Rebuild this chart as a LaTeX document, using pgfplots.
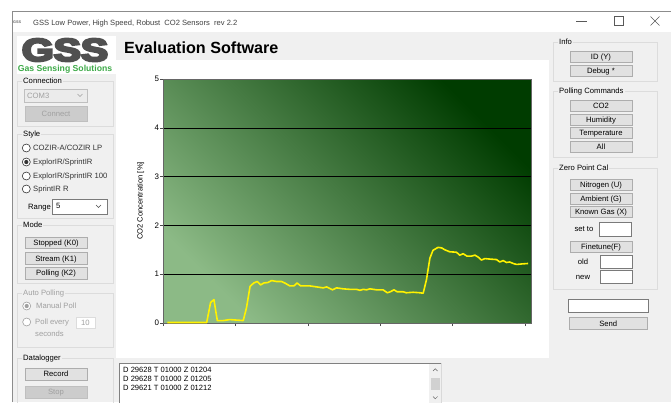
\documentclass[border=0pt]{standalone}
\usepackage{fontspec}
\setmainfont{Liberation Sans}
\newfontfamily\logofont{Liberation Sans}[BoldFeatures={FakeBold=7}]
\usepackage{graphicx}
\usepackage{pgfplots}
\pgfplotsset{compat=1.18}
\definecolor{bg}{HTML}{F0F0F0}
\definecolor{btnf}{HTML}{E1E1E1}
\definecolor{btnb}{HTML}{ADADAD}
\definecolor{grp}{HTML}{DCDCDC}
\definecolor{dis}{HTML}{A0A0A0}
\definecolor{disf}{HTML}{CCCCCC}
\definecolor{disb}{HTML}{BFBFBF}
\definecolor{tbx}{HTML}{7A7A7A}
\definecolor{gl}{HTML}{8CBA86}
\definecolor{gd}{HTML}{003C00}
\definecolor{gssgreen}{HTML}{3DAA48}
\definecolor{gssgray}{HTML}{505050}
\newcommand\uifont{\fontsize{7.7}{9}\selectfont}
\tikzset{ui/.style={font=\uifont, inner sep=0pt}}
\newcommand\Btn[5]{\draw[btnb, fill=btnf, line width=0.6bp] (#1,#2) rectangle (#3,#4);
  \node[ui, anchor=base] at ({(#1+#3)/2},{(#2+#4)/2+2.8}) {#5};}
\newcommand\DBtn[5]{\draw[disb, fill=disf, line width=0.6bp] (#1,#2) rectangle (#3,#4);
  \node[ui, anchor=base, text=dis] at ({(#1+#3)/2},{(#2+#4)/2+2.8}) {#5};}
\newcommand\Grp[6]{\draw[grp, line width=0.6bp] (#1,#2) rectangle (#3,#4);
  \node[ui, anchor=base west, fill=bg, inner xsep=1bp, inner ysep=0.5bp, text=#6] at (#1+5,#2+2.8) {#5};}
\newcommand\RadioOff[5]{\draw[#5, fill=white, line width=0.6bp] (#1,#2) circle[radius=4];
  \node[ui, anchor=base west, text=#5] at (#3,#2+2.8) {#4};}
\newcommand\RadioOn[5]{\RadioOff{#1}{#2}{#3}{#4}{#5}\fill[#5] (#1,#2) circle[radius=2.1];}
\newcommand\TBox[4]{\draw[tbx, fill=white, line width=0.6bp] (#1,#2) rectangle (#3,#4);}
\begin{document}
\begin{tikzpicture}
\begin{scope}[x=1bp, y=-1bp, yshift=402bp]
\fill[white] (0,0) rectangle (671,402);
\useasboundingbox (0,0) rectangle (671,402);
% window
\fill[bg] (12.3,32) rectangle (671,402);
\draw[black!45, line width=0.6bp] (12.3,402) -- (12.3,11.3) -- (671,11.3);
\node[anchor=west, font=\fontsize{3.8}{4}\selectfont\bfseries, text=black!60, inner sep=0] at (13,22) {GSS};
\node[anchor=base west, font=\fontsize{7.6}{9}\selectfont, text=black!75, inner sep=0] at (33,25.8) {GSS Low Power, High Speed, Robust\ \ CO2 Sensors\ \ rev 2.2};
\draw[black!65, line width=0.45bp] (576,21)--(587,21);
\draw[black!65, line width=0.45bp] (614.5,16.5) rectangle (623.5,25.5);
\draw[black!65, line width=0.45bp] (650.5,16.5)--(659.5,25.5) (650.5,25.5)--(659.5,16.5);
% logo
\fill[white] (17,36) rectangle (116,74);
\node[anchor=base, inner sep=0, text=gssgray] at (65,61) {\scalebox{1.28}[1]{\fontsize{32}{32}\logofont\bfseries GSS}};
\node[anchor=base, inner sep=0, text=gssgreen] at (65,71) {\fontsize{8.7}{9}\selectfont\bfseries Gas Sensing Solutions};
\node[anchor=base west, inner sep=0, font=\fontsize{16.2}{18}\selectfont\bfseries] at (124,53.3) {Evaluation Software};
% chart panel
\fill[white] (116,60) rectangle (549,358);
% left column
\Grp{17}{81}{113}{126}{Connection}{black}
\draw[disb, fill=black!8, line width=0.6bp] (24,89) rectangle (87,102);
\node[ui, anchor=base west, text=dis] at (27,98.3) {COM3};
\draw[dis, line width=0.5bp] (77.5,94)--(80,96.5)--(82.5,94);
\DBtn{25}{106}{87}{121}{Connect}
\Grp{17}{134}{113}{218}{Style}{black}
\RadioOff{26.3}{148}{33}{COZIR-A/COZIR LP}{black!80}
\RadioOn{26.3}{162}{33}{ExplorIR/SprintIR}{black!80}
\RadioOff{26.3}{176}{33}{ExplorIR/SprintIR 100}{black!80}
\RadioOff{26.3}{189}{33}{SprintIR R}{black!80}
\node[ui, anchor=base west] at (28,209.6) {Range};
\TBox{52}{199}{107}{214}
\node[ui, anchor=base west] at (56,208.6) {5};
\draw[black!70, line width=0.5bp] (96,205)--(98.5,207.5)--(101,205);
\Grp{17}{225}{113}{283}{Mode}{black}
\Btn{25}{237}{87}{248.5}{Stopped (K0)}
\Btn{25}{252.5}{87}{264}{Stream (K1)}
\Btn{25}{267}{87}{279}{Polling (K2)}
\Grp{17}{293}{113}{347}{Auto Polling}{dis}
\RadioOn{26.7}{306}{36}{Manual Poll}{dis}
\RadioOff{26.7}{322}{35}{Poll every}{dis}
\draw[grp, fill=white, line width=0.6bp] (76,317) rectangle (95,328);
\node[ui, anchor=base west, text=dis] at (81,325.5) {10};
\node[ui, anchor=base west, text=dis] at (35,336) {seconds};
\Grp{17}{358}{113}{410}{Datalogger}{black}
\Btn{25}{368}{87}{380}{Record}
\DBtn{25}{386}{87}{398}{Stop}
% right column
\Grp{553}{42}{657}{81}{Info}{black}
\Btn{570}{51}{632}{62}{ID (Y)}
\Btn{570}{65.5}{632}{76.5}{Debug *}
\Grp{553}{91}{657}{157}{Polling Commands}{black}
\Btn{570}{100.5}{632}{111.5}{CO2}
\Btn{570}{114}{632}{125}{Humidity}
\Btn{570}{127.5}{632}{138.5}{Temperature}
\Btn{570}{141}{632}{152.5}{All}
\Grp{553}{168}{657}{289}{Zero Point Cal}{black}
\Btn{570}{179.5}{632}{190.5}{Nitrogen (U)}
\Btn{570}{193}{632}{204}{Ambient (G)}
\Btn{570}{206.5}{632}{217.5}{Known Gas (X)}
\node[ui, anchor=base] at (584,231) {set to};
\TBox{599}{222.5}{631}{236}
\Btn{570}{241}{632}{252.5}{Finetune(F)}
\node[ui, anchor=base] at (583,264.8) {old};
\TBox{600}{255}{632.5}{268.3}
\node[ui, anchor=base] at (583,279) {new};
\TBox{600}{270}{632.5}{283.3}
\TBox{568}{299}{648}{312.3}
\Btn{569}{317.3}{647.5}{329.3}{Send}
% log box
\fill[white] (119.5,363) rectangle (441.5,405);
\draw[black!50, line width=0.6bp] (119.5,405) -- (119.5,363) -- (441.5,363);
\draw[black!15, line width=0.6bp] (441.5,363) -- (441.5,405);
\fill[bg] (429,363.5) rectangle (441,405);
\fill[black!18] (430.5,378.3) rectangle (440,390);
\draw[black!60, line width=0.5bp] (433,371)--(435.3,368.7)--(437.6,371);
\draw[black!60, line width=0.5bp] (433,396.5)--(435.3,398.8)--(437.6,396.5);
\node[anchor=base west, inner sep=0, font=\fontsize{7.6}{9}\selectfont] at (123,372) {D 29628 T 01000 Z 01204};
\node[anchor=base west, inner sep=0, font=\fontsize{7.6}{9}\selectfont] at (123,381.2) {D 29628 T 01000 Z 01205};
\node[anchor=base west, inner sep=0, font=\fontsize{7.6}{9}\selectfont] at (123,390.3) {D 29621 T 01000 Z 01212};
\end{scope}
\begin{axis}[
  at={(163.3bp,79bp)}, anchor=south west,
  width=368.4bp, height=244bp, scale only axis,
  xmin=0, xmax=509.5, ymin=0, ymax=5,
  xtick={0,100,...,500}, xticklabels={},
  ytick={0,1,2,3,4,5},
  xtick pos=left, ytick pos=left,
  tick align=outside, major tick length=3bp,
  ymajorgrids, grid style={black, line width=0.6bp},
  axis line style={draw=black!60, line width=0.6bp},
  tick style={black!70, line width=0.6bp},
  /pgf/number format/assume math mode=true,
  yticklabel style={font=\fontsize{8}{9}\selectfont, inner sep=1bp},
  ylabel={CO2 Concentration [\%]},
  ylabel style={font=\fontsize{7.6}{9}\selectfont, at={(axis description cs:-0.0613,0.5)}, anchor=center},
  axis background/.style={shade, bottom color=gl, top color=gd, shading angle=-45},
]
\addplot[yellow, line width=1.6bp, line join=round] coordinates {
(5.5,0.01)(60,0.01)(65.4,0.42)(70,0.48)(74.7,0.05)(83,0.05)(92,0.07)(110.6,0.05)
(115,0.31)(120,0.75)(125,0.82)(130,0.85)(134.5,0.78)(139,0.82)(144.7,0.83)(149.8,0.87)
(156.7,0.85)(163.6,0.85)(168,0.82)(175,0.76)(180.6,0.76)(185,0.82)(190,0.76)(202.8,0.76)
(212,0.74)(221,0.72)(226,0.74)(234,0.68)(239.6,0.72)(248.8,0.70)(258,0.69)(267,0.69)
(272,0.67)(276.5,0.69)(281,0.68)(285.7,0.70)(295,0.68)(304,0.68)(309.7,0.62)(314,0.64)
(319,0.68)(323.5,0.64)(331.8,0.64)(336,0.62)(345.6,0.63)(354.8,0.62)(359.4,0.61)
(364,0.89)(368.7,1.33)(373,1.49)(380,1.55)(384.8,1.54)(389.4,1.50)(396,1.46)(405.5,1.45)
(410,1.39)(414.7,1.42)(420,1.37)(426,1.37)(431,1.39)(435.5,1.35)(440,1.29)(444.7,1.32)
(451.6,1.31)(460.8,1.30)(465.4,1.25)(470,1.28)(474.7,1.24)(479,1.25)(483.9,1.22)
(488.5,1.20)(495.4,1.21)(504.6,1.22)};
\end{axis}
\end{tikzpicture}
\end{document}
